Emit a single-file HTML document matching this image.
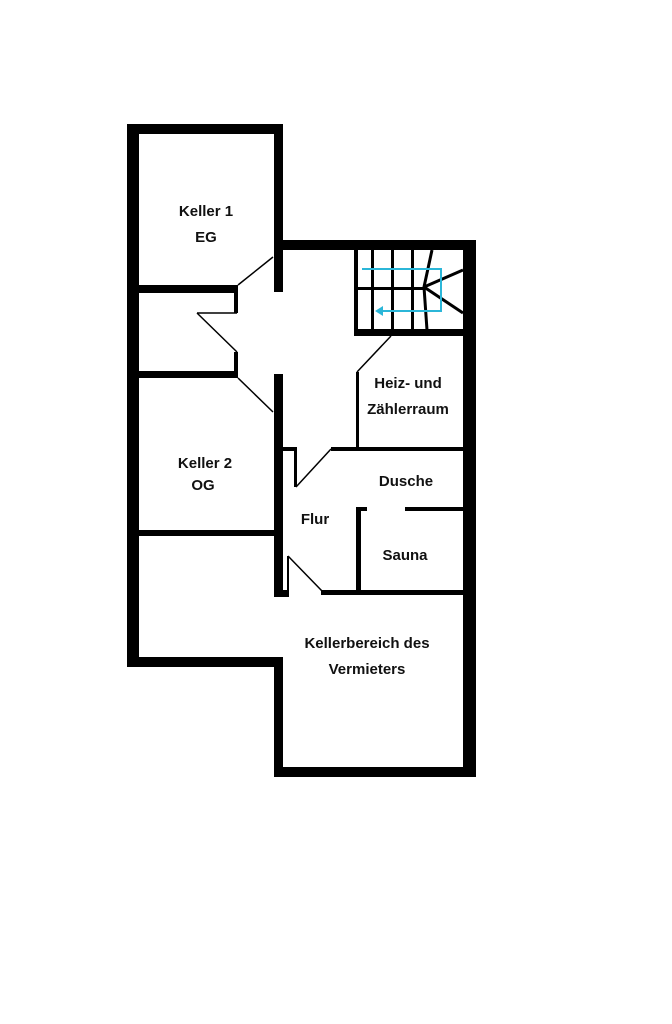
<!DOCTYPE html>
<html><head><meta charset="utf-8"><style>
html,body{margin:0;padding:0;background:#fff;}
svg{display:block}
text{font-family:"Liberation Sans",sans-serif;font-weight:bold;font-size:15px;fill:#111;text-anchor:middle}
</style></head><body>
<svg width="672" height="1024" viewBox="0 0 672 1024" xmlns="http://www.w3.org/2000/svg">
<rect width="672" height="1024" fill="#fff"/>
<g fill="#000">
<!-- outer walls -->
<rect x="127" y="124" width="156" height="10"/>
<rect x="127" y="124" width="12" height="543"/>
<rect x="127" y="657" width="156" height="10"/>
<rect x="274" y="657" width="9" height="120"/>
<rect x="274" y="767" width="202" height="10"/>
<rect x="463" y="240" width="13" height="537"/>
<rect x="274" y="240" width="202" height="10"/>
<!-- keller1 right wall -->
<rect x="274" y="124" width="9" height="168"/>
<rect x="274" y="374" width="9" height="223"/>
<!-- keller1 bottom -->
<rect x="139" y="285" width="99" height="8"/>
<rect x="234" y="285" width="4" height="28"/>
<rect x="139" y="371" width="99" height="7"/>
<rect x="234" y="352" width="4" height="26"/>
<!-- keller2 bottom -->
<rect x="139" y="530" width="135" height="6"/>
<!-- stairs -->
<rect x="354" y="329" width="109" height="7"/>
<rect x="354" y="250" width="4" height="86"/>
<rect x="371" y="250" width="3" height="80"/>
<rect x="391" y="250" width="3" height="80"/>
<rect x="411" y="250" width="3" height="80"/>
<rect x="356" y="287" width="68" height="3"/>
<!-- heiz left wall -->
<rect x="356" y="372" width="3" height="77"/>
<rect x="331" y="447" width="132" height="4"/>
<rect x="283" y="447" width="14" height="4"/>
<rect x="294" y="447" width="3" height="40"/>
<!-- sauna -->
<rect x="356" y="507" width="11" height="4"/>
<rect x="405" y="507" width="58" height="4"/>
<rect x="356" y="507" width="5" height="88"/>
<rect x="321" y="590" width="142" height="5"/>
<rect x="283" y="590" width="6" height="7"/>
<rect x="287" y="556" width="2" height="41"/>
</g>
<g stroke="#000" stroke-width="1.5" fill="none">
<line x1="238" y1="285" x2="273" y2="257"/>
<line x1="197" y1="313" x2="237" y2="313"/>
<line x1="197" y1="313" x2="237" y2="352"/>
<line x1="238" y1="378" x2="273" y2="412"/>
<line x1="391" y1="336" x2="357" y2="372"/>
<line x1="331" y1="449" x2="296" y2="487"/>
<line x1="288" y1="556" x2="322" y2="591"/>
</g>
<g stroke="#000" stroke-width="3" fill="none">
<polyline points="432,250 424,287 427,330"/>
<line x1="424" y1="287" x2="463" y2="270"/>
<line x1="424" y1="287" x2="463" y2="313"/>
</g>
<g stroke="#2bb6d8" stroke-width="2" fill="none">
<polyline points="362,269 441,269 441,311 380,311"/>
</g>
<polygon points="375,311 383,306 383,316" fill="#2bb6d8"/>
<text x="206" y="216">Keller 1</text>
<text x="206" y="242">EG</text>
<text x="408" y="388">Heiz- und</text>
<text x="408" y="414">Zählerraum</text>
<text x="205" y="468">Keller 2</text>
<text x="203" y="490">OG</text>
<text x="406" y="486">Dusche</text>
<text x="315" y="524">Flur</text>
<text x="405" y="560">Sauna</text>
<text x="367" y="648">Kellerbereich des</text>
<text x="367" y="674">Vermieters</text>
</svg>
</body></html>
